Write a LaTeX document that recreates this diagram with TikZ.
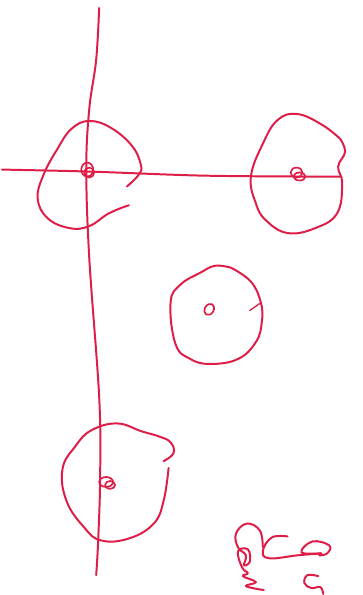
\documentclass[tikz,border=0pt]{standalone}
\usepackage{xcolor}
\usetikzlibrary{backgrounds}
\definecolor{inkred}{RGB}{222,30,70}

\begin{document}
\begin{tikzpicture}[x=1pt, y=-1pt,
    pen/.style={draw=inkred, line width=2pt, line cap=round, line join=round},
    blob/.style={pen, smooth, tension=0.7},
    dot/.style={pen, line width=1.7pt}
]
\path[fill=white] (0,0) rectangle (366,595);
% axes
\draw[pen] plot[smooth, tension=0.6] coordinates {(100,8) (97,60) (90,110) (87,170) (90,260) (100,400) (101,480) (99,545) (97,580)};
\draw[pen] plot[smooth, tension=0.5] coordinates {(2,171) (90,173) (200,177) (300,178) (344,178)};
% upper left region
\draw[blob] plot coordinates {(128,188) (140,176) (142,166) (133,147) (112,129) (90,122) (72,130) (58,150) (44,176) (38,200) (48,220) (70,230) (90,228) (110,215) (130,207)};
\draw[dot] (88,171) ellipse (6pt and 7pt);
\draw[dot] (90,174) ellipse (5pt and 5pt);
% upper right region
\draw[blob] plot coordinates {(343,140) (325,126) (300,115) (280,121) (265,145) (253,178) (258,205) (268,222) (290,235) (318,230) (340,215) (345,185) (341,168) (348,153) (343,140)};
\draw[dot] (299,174) ellipse (6pt and 5pt);
\draw[dot] (302,178) ellipse (6pt and 4pt);
% middle region
\draw[blob] plot coordinates {(233,270) (217,268) (202,275) (182,287) (172,305) (177,347) (192,362) (212,367) (240,362) (258,345) (264,325) (263,305) (253,284) (233,270)};
\draw[dot, rotate around={-30:(211,312)}] (211,312) ellipse (4.5pt and 6pt);
\draw[pen, line width=1.3pt] (252,313) -- (262,306);
% lower left region
\draw[blob] plot coordinates {(165,465) (175,457) (172,446) (160,440) (143,435) (118,427) (92,434) (76,450) (63,473) (67,505) (85,532) (102,545) (130,543) (155,528) (165,505) (170,472)};
\draw[dot] (107,486) ellipse (7pt and 5pt);
\draw[dot] (111,489) ellipse (5pt and 4pt);
% scribble at the bottom right
\draw[blob] plot coordinates {(265,552) (262,535) (249,528) (238,538) (240,552) (248,560) (246,570) (252,566) (250,554) (240,556) (244,572) (250,578) (245,581) (258,587) (248,591) (266,595)};
\draw[blob] plot coordinates {(290,541) (274,542) (265,556) (272,563) (300,560) (324,558)};
\draw[blob] plot coordinates {(324,558) (304,557) (315,546) (332,550) (330,558) (322,560)};
\draw[blob] plot coordinates {(321,581) (310,580) (307,588) (314,593) (323,592) (326,599)};
\end{tikzpicture}
\end{document}
